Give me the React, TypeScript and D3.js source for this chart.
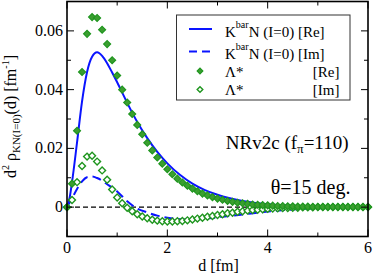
import React from 'react';
import * as d3 from 'd3';

// marker grid (fm), step 0.1 from 0 to 6
const dGrid = d3.range(0, 61).map(i => +(i * 0.1).toFixed(1));

// Λ* [Re] (filled diamonds)
const lamRe = [
  0, 0.008, 0.026, 0.046, 0.059, 0.0647, 0.0644, 0.0604, 0.0555, 0.050,
  0.0448, 0.040, 0.0356, 0.0317, 0.028, 0.0248, 0.0219, 0.0193, 0.0169, 0.0148,
  0.0129, 0.0112, 0.0097, 0.0084, 0.0073, 0.0063, 0.0054, 0.0046, 0.0040, 0.0034,
  0.0029, 0.0025, 0.0021, 0.0018, 0.0015, 0.0013, 0.0011, 0.0009, 0.0008, 0.0007,
  0.0006, 0.0005, 0.0004, 0.0004, 0.0003, 0.0003, 0.0002, 0.0002, 0.0002, 0.0001,
  0.0001, 0.0001, 0.0001, 0.0001, 0.0001, 0.0001, 0.0001, 0.0001, 0.0001, 0.0001, 0.0001,
];

// Λ* [Im] (open diamonds)
const lamIm = [
  0, 0.0024, 0.0085, 0.014, 0.0172, 0.0175, 0.0155, 0.0125, 0.0093, 0.006,
  0.0033, 0.0013, -0.0002, -0.0014, -0.0024, -0.0032, -0.0038, -0.0043, -0.0046, -0.0048,
  -0.0049, -0.0049, -0.0048, -0.0047, -0.0045, -0.0042, -0.0039, -0.0036, -0.0033, -0.0030,
  -0.0027, -0.0024, -0.0021, -0.0019, -0.0016, -0.0014, -0.0012, -0.0010, -0.0009, -0.0007,
  -0.0006, -0.0005, -0.0004, -0.0003, -0.0003, -0.0002, -0.0002, -0.0001, -0.0001, -0.0001,
  0, 0, 0, 0, 0, 0, 0, 0, 0, 0, 0,
];

// KbarN (I=0) curves
const dLine = [0, 0.05, 0.1, 0.2, 0.3, 0.4, 0.5, 0.6, 0.7, 0.8, 0.9, 1.0, 1.2, 1.4, 1.6, 1.8, 2.0, 2.25, 2.5, 2.75, 3.0, 3.5, 4.0, 4.5, 5.0, 5.5, 6.0];
const kbarRe = [0, 0.003, 0.0085, 0.022, 0.036, 0.046, 0.0512, 0.0527, 0.0515, 0.049, 0.0458, 0.0425, 0.0355, 0.029, 0.0235, 0.0188, 0.0149, 0.011, 0.0080, 0.0058, 0.0042, 0.0021, 0.0010, 0.0005, 0.0002, 0.0001, 0];
const kbarIm = [0, 0.0015, 0.003, 0.0062, 0.0088, 0.0102, 0.0104, 0.0099, 0.009, 0.0078, 0.0066, 0.0053, 0.0020, -0.0005, -0.0018, -0.0029, -0.0036, -0.0041, -0.0042, -0.0039, -0.0035, -0.0025, -0.0015, -0.0008, -0.0004, -0.0002, -0.0001];

const xMajor = [0, 2, 4, 6];
const xMinor = [1, 3, 5];
const yMajor = [0, 0.02, 0.04, 0.06];
const yMinor = [-0.01, 0.01, 0.03, 0.05, 0.07];

const W = 374, H = 275;
const L = 67, R = 368, T = 1.5, B = 236.5;
const BLUE = '#0a14ff';
const GREEN = '#1f961f';
const GFILL = '#3c9e30';
const FONT = '"Liberation Serif", "DejaVu Serif", serif';

export default function App() {
  const x = d3.scaleLinear().domain([0, 6]).range([L, R]);
  const y = d3.scaleLinear().domain([-0.01, 0.07]).range([B, T]);

  const mkLine = (vals: number[]) => d3.line<number>()
    .x((_, i) => x(dLine[i]))
    .y(d => y(d))
    .curve(d3.curveMonotoneX)(vals) || '';

  const diamond = d3.symbol(d3.symbolSquare, 24)() || '';
  const legDiamond = d3.symbol(d3.symbolSquare, 16)() || '';

  const major = 7, minor = 4;

  return (
    <svg width={W} height={H} style={{ position: 'fixed', left: 0, top: 0, background: '#fff' }} fontFamily={FONT}>
      {/* zero line */}
      <line x1={L} x2={R} y1={y(0)} y2={y(0)} stroke="#000" strokeWidth={1.2} strokeDasharray="5,3" />

      {/* KbarN curves */}
      <path d={mkLine(kbarRe)} fill="none" stroke={BLUE} strokeWidth={2} />
      <path d={mkLine(kbarIm)} fill="none" stroke={BLUE} strokeWidth={2} strokeDasharray="9,5" />

      {/* Λ* markers */}
      {dGrid.map((d, i) => (
        <path key={'im' + i} d={diamond} transform={`translate(${x(d)},${y(lamIm[i])}) rotate(45)`}
          fill="#fff" stroke={GREEN} strokeWidth={1.4} />
      ))}
      {dGrid.map((d, i) => (
        <path key={'re' + i} d={diamond} transform={`translate(${x(d)},${y(lamRe[i])}) rotate(45)`}
          fill={GFILL} stroke={GREEN} strokeWidth={1.2} />
      ))}

      {/* frame */}
      <rect x={L} y={T} width={R - L} height={B - T} fill="none" stroke="#000" strokeWidth={1.6} />

      {/* ticks */}
      {xMajor.map(v => (
        <g key={'xM' + v}>
          <line x1={x(v)} x2={x(v)} y1={B} y2={B - major} stroke="#000" strokeWidth={1} />
          <line x1={x(v)} x2={x(v)} y1={T} y2={T + major} stroke="#000" strokeWidth={1} />
          <text x={x(v)} y={B + 16} textAnchor="middle" fontSize={16}>{v}</text>
        </g>
      ))}
      {xMinor.map(v => (
        <g key={'xm' + v}>
          <line x1={x(v)} x2={x(v)} y1={B} y2={B - minor} stroke="#000" strokeWidth={1} />
          <line x1={x(v)} x2={x(v)} y1={T} y2={T + minor} stroke="#000" strokeWidth={1} />
        </g>
      ))}
      {yMajor.map(v => (
        <g key={'yM' + v}>
          <line x1={L} x2={L + major} y1={y(v)} y2={y(v)} stroke="#000" strokeWidth={1} />
          <line x1={R} x2={R - major} y1={y(v)} y2={y(v)} stroke="#000" strokeWidth={1} />
          <text x={L - 4} y={y(v) + 5} textAnchor="end" fontSize={16}>{v === 0 ? '0' : v.toFixed(2)}</text>
        </g>
      ))}
      {yMinor.map(v => (
        <g key={'ym' + v}>
          <line x1={L} x2={L + minor} y1={y(v)} y2={y(v)} stroke="#000" strokeWidth={1} />
          <line x1={R} x2={R - minor} y1={y(v)} y2={y(v)} stroke="#000" strokeWidth={1} />
        </g>
      ))}

      {/* axis titles */}
      <text x={(L + R) / 2 + 1} y={271} textAnchor="middle" fontSize={16}>d [fm]</text>
      <text transform={`translate(16,${(50 + 183) / 2}) rotate(-90)`} textAnchor="middle" fontSize={16}>
        d<tspan fontSize={10} dy={-7}>2</tspan>
        <tspan dy={7}> ρ</tspan>
        <tspan fontSize={11} dy={4}>KN(I=0)</tspan>
        <tspan dy={-4}>(d) [fm</tspan>
        <tspan fontSize={10} dy={-7}>-1</tspan>
        <tspan dy={7}>]</tspan>
      </text>

      {/* legend */}
      <rect x={176.5} y={15} width={173.5} height={85} fill="#fff" stroke="#333" strokeWidth={1} />
      <line x1={189} x2={212} y1={29} y2={29} stroke={BLUE} strokeWidth={2} />
      <text x={225} y={36.5} fontSize={15}>K<tspan fontSize={10} dy={-9}>bar</tspan><tspan dy={9}>N (I=0) [Re]</tspan></text>
      <line x1={189} x2={212} y1={51.5} y2={51.5} stroke={BLUE} strokeWidth={2} strokeDasharray="8,5" />
      <text x={225} y={59} fontSize={15}>K<tspan fontSize={10} dy={-9}>bar</tspan><tspan dy={9}>N (I=0) [Im]</tspan></text>
      <path d={legDiamond} transform="translate(200,71) rotate(45)" fill={GFILL} stroke={GREEN} strokeWidth={1.2} />
      <text x={225} y={76.5} fontSize={15}>Λ*</text>
      <text x={339.5} y={76.5} fontSize={15} textAnchor="end">[Re]</text>
      <path d={legDiamond} transform="translate(200,89.5) rotate(45)" fill="#fff" stroke={GREEN} strokeWidth={1.4} />
      <text x={225} y={95} fontSize={15}>Λ*</text>
      <text x={339.5} y={95} fontSize={15} textAnchor="end">[Im]</text>

      {/* annotations */}
      <text x={348.5} y={148.5} fontSize={19} textAnchor="end">NRv2c (f<tspan fontSize={13} dy={4}>π</tspan><tspan dy={-4}>=110)</tspan></text>
      <text x={350.5} y={193.5} fontSize={20} textAnchor="end">θ=15 deg.</text>
    </svg>
  );
}
